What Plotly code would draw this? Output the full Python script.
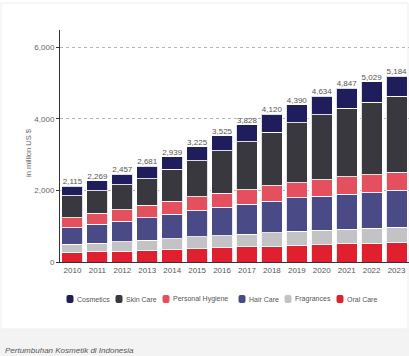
import plotly.graph_objects as go

years = ["2010", "2011", "2012", "2013", "2014", "2015", "2016",
         "2017", "2018", "2019", "2020", "2021", "2022", "2023"]
totals = [2115, 2269, 2457, 2681, 2939, 3225, 3525, 3828, 4120, 4390, 4634, 4847, 5029, 5184]
oral_care = [270, 282, 305, 327, 346, 374, 400, 421, 439, 465, 486, 510, 530, 545]
fragrances = [225, 236, 260, 280, 305, 325, 335, 355, 372, 390, 400, 405, 410, 425]
hair_care = [467, 533, 579, 636, 682, 729, 794, 832, 888, 935, 953, 981, 1000, 1028]
personal_hygiene = [280, 305, 318, 336, 370, 390, 395, 415, 425, 430, 465, 485, 495, 505]
skin_care = [607, 636, 701, 748, 888, 1009, 1178, 1336, 1495, 1664, 1804, 1916, 2028, 2131]
cosmetics = [266, 277, 294, 354, 348, 398, 423, 469, 501, 506, 526, 550, 566, 550]
y_ticks = [0, 2000, 4000, 6000]
y_tick_labels = ["0", "2,000", "4,000", "6,000"]

series = [
    ("Oral Care", oral_care, "#e0202f"),
    ("Fragrances", fragrances, "#c3c3c6"),
    ("Hair Care", hair_care, "#4a4a86"),
    ("Personal Hygiene", personal_hygiene, "#e5505e"),
    ("Skin Care", skin_care, "#38383e"),
    ("Cosmetics", cosmetics, "#1f1d5c"),
]
legend_order = ["Cosmetics", "Skin Care", "Personal Hygiene", "Hair Care", "Fragrances", "Oral Care"]
colors = {n: c for n, _, c in series}

FONT = "Liberation Sans, Arial, sans-serif"
W, H = 409, 356
L, R, T, B = 60, 0, 30, 94
PW, PH_ = W - L - R, H - T - B

def px_x(px):
    return (px - L) / PW

def px_y(py):
    return (H - B - py) / PH_

fig = go.Figure()
for name, vals, col in series:
    fig.add_trace(go.Bar(
        x=years, y=vals, name=name, marker_color=col,
        marker_line=dict(color="rgba(255,255,255,0.85)", width=1),
        showlegend=False,
    ))

fig.add_trace(go.Scatter(
    x=years, y=totals, mode="text",
    text=[f"{v:,}" for v in totals], textposition="top center",
    textfont=dict(family=FONT, size=8, color="#555555"),
    showlegend=False, hoverinfo="skip",
))

shapes = []
annotations = []
shapes.append(dict(type="rect", xref="paper", yref="paper",
                   x0=px_x(1), x1=px_x(408), y0=px_y(329), y1=px_y(3),
                   line=dict(color="#eeeeee", width=1), fillcolor="rgba(0,0,0,0)", layer="below"))
shapes.append(dict(type="rect", xref="paper", yref="paper",
                   x0=px_x(0), x1=px_x(409), y0=px_y(356), y1=px_y(329),
                   line=dict(width=0), fillcolor="#f3f3f3", layer="below"))

legend_pos = [70, 119, 166, 242, 288, 340]
ly = px_y(299)
for name, cx in zip(legend_order, legend_pos):
    shapes.append(dict(
        type="path", xref="paper", yref="paper",
        xsizemode="pixel", ysizemode="pixel", xanchor=px_x(cx), yanchor=ly,
        path="M -3.5,-2 Q -3.5,-4 -1.5,-4 L 1.5,-4 Q 3.5,-4 3.5,-2 L 3.5,2 Q 3.5,4 1.5,4 L -1.5,4 Q -3.5,4 -3.5,2 Z",
        fillcolor=colors[name], line=dict(width=0),
    ))
    annotations.append(dict(
        x=px_x(cx + 5), y=ly, xref="paper", yref="paper",
        text=name, showarrow=False, xanchor="left", yanchor="middle",
        font=dict(family=FONT, size=7, color="#555555"),
    ))

annotations.append(dict(
    x=px_x(28), y=px_y(153), xref="paper", yref="paper",
    text="in million US $", textangle=-90, showarrow=False,
    xanchor="center", yanchor="middle",
    font=dict(family=FONT, size=7.5, color="#666666"),
))
annotations.append(dict(
    x=px_x(3), y=px_y(350), xref="paper", yref="paper",
    text="<i>Pertumbuhan Kosmetik di Indonesia</i>", showarrow=False,
    xanchor="left", yanchor="middle",
    font=dict(family=FONT, size=8, color="#555555"),
))

fig.update_layout(
    width=W, height=H,
    margin=dict(l=L, r=R, t=T, b=B, pad=0),
    paper_bgcolor="white", plot_bgcolor="white",
    barmode="stack", bargap=0.16,
    showlegend=False,
    shapes=shapes, annotations=annotations,
    font=dict(family=FONT, size=8, color="#555555"),
)
fig.update_xaxes(
    type="category", range=[-0.5, 13.5],
    showline=True, linecolor="#333333", linewidth=1,
    ticks="", showgrid=False,
    tickfont=dict(family=FONT, size=8, color="#555555"),
)
fig.update_yaxes(
    range=[0, 6480], tickvals=y_ticks, ticktext=y_tick_labels,
    showline=True, linecolor="#333333", linewidth=1,
    ticks="outside", ticklen=3, tickcolor="#333333",
    showgrid=True, gridcolor="#b5b5b5", griddash="dot", gridwidth=1,
    zeroline=False,
    tickfont=dict(family=FONT, size=8, color="#666666"),
)

fig.write_html(
    "out.html",
    config={"displayModeBar": False},
    post_script="document.body.style.margin='0';document.body.style.overflow='hidden';",
)
